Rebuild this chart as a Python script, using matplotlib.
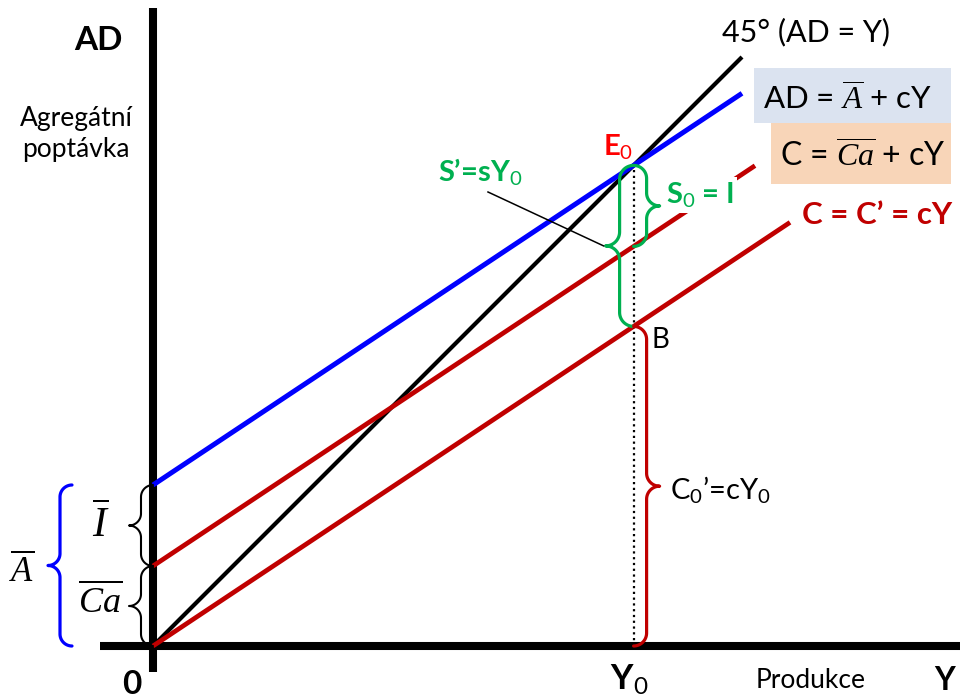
import numpy as np
import matplotlib.pyplot as plt
from matplotlib.patches import Rectangle

plt.rcParams['font.family'] = ['Lato', 'DejaVu Sans']
plt.rcParams['mathtext.fontset'] = 'custom'
plt.rcParams['mathtext.rm'] = 'Lato'
plt.rcParams['mathtext.it'] = 'Liberation Serif:italic'
plt.rcParams['mathtext.bf'] = 'Lato:bold'

# keynesian cross parameters
Ca = 80.0          # autonomous consumption
I = 81.0           # investment
c = 0.665          # marginal propensity to consume
A = Ca + I         # autonomous expenditure
Y0 = A / (1 - c)   # equilibrium output

y_45 = [0, 589]
y_ad = [0, 589]
y_c = [0, 602]
y_c0 = [0, 637]

BLUE = '#0000ff'
RED = '#c00000'
GREEN = '#00b050'

fig = plt.figure(figsize=(9.65, 6.99), dpi=100)
ax = fig.add_axes([0, 0, 1, 1])
ax.set_xlim(-153, 812)
ax.set_ylim(-53, 646)
ax.axis('off')


def brace(x, y0, y1, d, r, **kw):
    # vertical curly brace on x, from y0 to y1, tip pointing d (+1 right, -1 left)
    t = np.linspace(0, np.pi / 2, 25)
    ym = (y0 + y1) / 2
    xs = np.concatenate([
        x - d * r + d * r * np.sin(t),
        x + d * r - d * r * np.cos(t),
        x + d * r - d * r * np.sin(t),
        x - d * r + d * r * np.cos(t),
    ])
    ys = np.concatenate([
        y0 + r - r * np.cos(t),
        ym - r + r * np.sin(t),
        ym + r - r * np.cos(t),
        y1 - r + r * np.sin(t),
    ])
    ax.plot(xs, ys, solid_capstyle='round', **kw)


# axes
ax.plot([0, 0], [-26, 638], color='black', lw=5.8, solid_capstyle='butt')
ax.plot([-53, 807], [0, 0], color='black', lw=5.8, solid_capstyle='butt')

# lines
x = np.array(y_45, dtype=float)
ax.plot(x, x, color='black', lw=3.0, solid_capstyle='butt')
x = np.array(y_ad, dtype=float)
ax.plot(x, A + c * x, color=BLUE, lw=3.6, solid_capstyle='butt')
x = np.array(y_c, dtype=float)
ax.plot(x, Ca + c * x, color=RED, lw=3.4, solid_capstyle='butt')
x = np.array(y_c0, dtype=float)
ax.plot(x, c * x, color=RED, lw=3.4, solid_capstyle='butt')

# equilibrium
ax.plot([Y0, Y0], [0, Y0], color='black', lw=1.6, linestyle=(0, (1, 1.6)))

# braces
brace(Y0 - 14, c * Y0, Y0, -1, 14, color=GREEN, lw=2.3)
brace(Y0 + 13, Ca + c * Y0, Y0, 1, 13, color=GREEN, lw=2.3)
brace(Y0 + 13, 0, c * Y0, 1, 13, color=RED, lw=2.3)
brace(-12, Ca, A, -1, 12, color='black', lw=1.5)
brace(-12, 0, Ca, -1, 12, color='black', lw=1.5)
brace(-93, 0, A, -1, 12, color=BLUE, lw=2.3)

# pointer to the saving brace
ax.plot([335, Y0 - 30], [454, (c * Y0 + Y0) / 2], color='black', lw=1.1)

# labels on the vertical axis
ax.text(-55, 605, 'AD', fontsize=24, fontweight='bold', ha='center', va='center')
ax.text(-77, 512, 'Agregátní\npoptávka', fontsize=19, ha='center', va='center',
        linespacing=1.3)
ax.text(-52, 124, r'$\overline{I}$', fontsize=30, ha='center', va='center')
ax.text(-53, 46, r'$\overline{Ca}$', fontsize=26, ha='center', va='center')
ax.text(-131, 76, r'$\overline{A}$', fontsize=25, ha='center', va='center')

# line labels
ax.text(569, 614, '45° (AD = Y)', fontsize=22, ha='left', va='center')
ax.add_patch(Rectangle((601, 523), 197, 55, facecolor='#dbe3f0', edgecolor='none'))
ax.text(610, 548, r'AD = $\overline{A}$ + cY', fontsize=22.5, ha='left', va='center')
ax.add_patch(Rectangle((618, 462), 180, 61, facecolor='#f8d5b8', edgecolor='none'))
ax.text(627, 490, r'C = $\overline{Ca}$ + cY', fontsize=23, ha='left', va='center')
ax.text(649, 431, 'C = C’ = cY', fontsize=22.5, fontweight='bold', color=RED,
        ha='left', va='center',
        bbox=dict(facecolor='white', edgecolor='none', pad=2))

# point labels
ax.text(465, 499, r'E$_0$', fontsize=21, fontweight='bold', color='#ff0000',
        ha='center', va='center')
ax.text(285, 474, r'S’=sY$_0$', fontsize=21, fontweight='bold', color=GREEN,
        ha='left', va='center')
ax.text(513, 451, r'S$_0$ = I', fontsize=21, fontweight='bold', color=GREEN,
        ha='left', va='center',
        bbox=dict(facecolor='white', edgecolor='none', pad=2))
ax.text(499, 306, 'B', fontsize=20, ha='left', va='center')
ax.text(517, 156, r'C$_0$’=cY$_0$', fontsize=21, ha='left', va='center')

# labels on the horizontal axis
ax.text(-21, -38, '0', fontsize=24, fontweight='bold', ha='center', va='center')
ax.text(457, -34, r'Y$_0$', fontsize=25, fontweight='bold', ha='left', va='center')
ax.text(603, -34, 'Produkce', fontsize=19, ha='left', va='center')
ax.text(792, -34, 'Y', fontsize=23, fontweight='bold', ha='center', va='center')

fig.savefig('out.png', dpi=100)
